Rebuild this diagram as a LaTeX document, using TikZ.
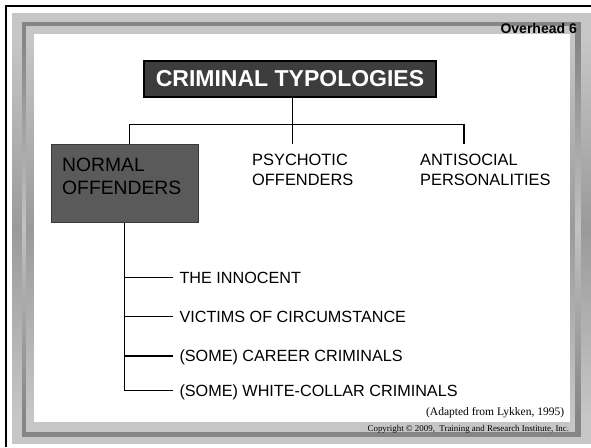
\documentclass[tikz,border=0pt]{standalone}
\usepackage{fontspec}
\setmainfont{Liberation Sans}
\newfontfamily\serifx{Liberation Serif}
\definecolor{bandlight}{HTML}{C6C6C6}
\definecolor{bandline}{HTML}{858585}
\definecolor{bandmid}{HTML}{9A9A9A}
\definecolor{bandpale}{HTML}{C2C2C2}
\definecolor{titlefill}{HTML}{3D3D3D}
\definecolor{normalfill}{HTML}{5A5A5A}
\definecolor{normaledge}{HTML}{383838}
\tikzset{
  conn/.style={draw=black, line width=1.1pt, line join=miter},
  titlebox/.style={rectangle, fill=titlefill, draw=black, line width=2pt,
    minimum width=292pt, minimum height=36pt, inner sep=0pt, text=white,
    font=\bfseries\fontsize{23}{27}\selectfont},
  normalbox/.style={rectangle, fill=normalfill, draw=normaledge, line width=0.8pt,
    minimum width=147pt, minimum height=78pt, inner sep=0pt},
  bigtext/.style={anchor=north west, align=left, inner sep=0pt,
    font=\fontsize{19.3}{22.7}\selectfont},
  midtext/.style={anchor=north west, align=left, inner sep=0pt,
    font=\fontsize{16.4}{20}\selectfont},
  itemtext/.style={anchor=west, inner xsep=6.6pt, inner ysep=0pt,
    text height=11.6pt, text depth=0pt, font=\fontsize{16.2}{19}\selectfont},
}
\begin{document}
\begin{tikzpicture}[x=1pt,y=-1pt]
\useasboundingbox (0,0) rectangle (591,447);
\fill[white] (0,0) rectangle (591,447);
% frame
\fill[bandlight] (12,12.5) rectangle (591,444);
\fill[bandline] (22,22) rectangle (581,437);
\fill[bandlight] (26,26) rectangle (575,432);
% side gradients
\shade[top color=bandlight, bottom color=bandlight, middle color=bandmid] (12,40) rectangle (22,416);
\shade[top color=bandline, bottom color=bandline, middle color=bandpale] (22,40) rectangle (26,416);
\shade[top color=bandlight, bottom color=bandlight, middle color=bandmid] (26,40) rectangle (34,416);
\shade[top color=bandlight, bottom color=bandlight, middle color=bandmid] (570,40) rectangle (575,416);
\shade[top color=bandline, bottom color=bandline, middle color=bandpale] (575,40) rectangle (581,416);
\shade[top color=bandlight, bottom color=bandlight, middle color=bandmid] (581,40) rectangle (591,416);
\fill[white] (34,34) rectangle (570,422);
\draw[black, line width=2pt] (6.3,447) -- (6.3,5.7) -- (591,5.7);

% header
\node[anchor=base east, inner sep=0pt, font=\bfseries\fontsize{14}{16}\selectfont] (overhead) at (577,33.5) {Overhead 6};

% title
\node[titlebox] (title) at (290,79) {CRIMINAL TYPOLOGIES\hspace{9pt}};

% categories
\node[normalbox] (normal) at (124.65,183.5) {};
\node[bigtext] (normaltext) at (62,158.3) {NORMAL\\OFFENDERS};
\node[midtext] (psych) at (252,154) {PSYCHOTIC\\OFFENDERS};
\node[midtext] (anti) at (420,154) {ANTISOCIAL\\PERSONALITIES};

\coordinate (hl) at (129.3,124.3);
\coordinate (hr) at (464,124.3);
\coordinate (pdrop) at (292.7,144.3);
\coordinate (adrop) at (464,144.3);
\draw[conn] (title.south -| pdrop) -- (pdrop);
\draw[conn] (hl |- normal.north) -- (hl) -- (hr) -- (adrop);

% sub-items
\node[itemtext] (i1) at (172.7,277.3) {THE INNOCENT};
\node[itemtext] (i2) at (172.7,316.7) {VICTIMS OF CIRCUMSTANCE};
\node[itemtext] (i3) at (172.7,356) {(SOME) CAREER CRIMINALS};
\node[itemtext] (i4) at (172.7,390.7) {(SOME) WHITE-COLLAR CRIMINALS};
\draw[conn] (normal.south) -- (normal.south |- i4.west) -- (i4.west);
\draw[conn] (normal.south |- i1.west) -- (i1.west);
\draw[conn] (normal.south |- i2.west) -- (i2.west);
\draw[conn] (normal.south |- i3.west) -- (i3.west);

% credits
\node[anchor=base east, inner sep=0pt, font=\serifx\fontsize{11.5}{14}\selectfont] (adapted) at (564.3,415) {(Adapted from Lykken, 1995)};
\node[anchor=base east, inner sep=0pt, font=\serifx\fontsize{8.9}{10}\selectfont] (copy) at (569.3,431) {Copyright © 2009,\ \ Training and Research Institute, Inc.};
\end{tikzpicture}
\end{document}
